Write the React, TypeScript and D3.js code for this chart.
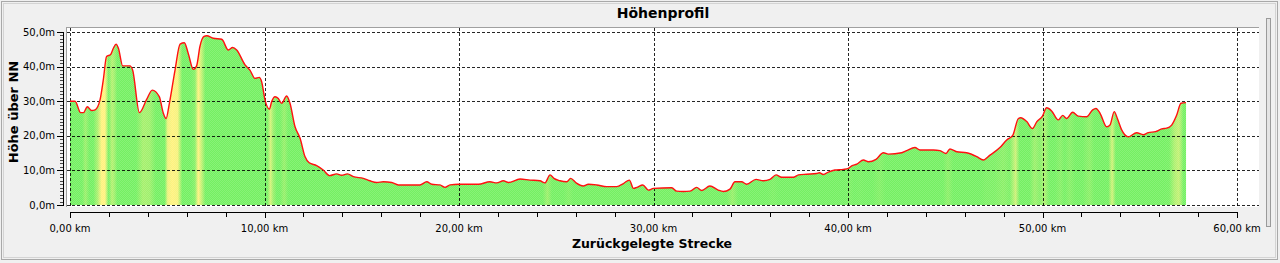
import React from "react";
import * as d3 from "d3";

const km: number[] = [
  0, 0.26, 0.55, 0.69, 0.89, 1.11, 1.29, 1.54, 1.71, 1.88, 2.09, 2.23, 2.37, 2.49, 2.71, 3.08, 3.22, 3.57,
  3.94, 4.23, 4.59, 4.8, 4.94, 5.11, 5.4, 5.66, 5.88, 6.08, 6.34, 6.51, 6.68, 6.89, 7.03, 7.37, 7.8, 8.14,
  8.36, 8.57, 9.0, 9.25, 9.51, 9.73, 9.85, 10.03, 10.25, 10.37, 10.54, 10.71, 10.88, 11.14, 11.31, 11.57,
  11.83, 12.08, 12.3, 12.68, 13.02, 13.35, 13.71, 13.97, 14.26, 14.57, 15.08, 15.42, 15.77, 16.11, 16.54,
  16.88, 17.99, 18.34, 18.6, 19.02, 19.28, 19.54, 19.97, 21.0, 21.59, 21.94, 22.28, 22.54, 23.14, 23.65,
  24.16, 24.42, 24.68, 24.88, 25.19, 25.54, 25.74, 26.02, 26.39, 26.65, 27.08, 27.6, 28.11, 28.45, 28.76,
  28.97, 29.14, 29.45, 29.74, 29.99, 30.94, 31.19, 31.53, 31.88, 32.22, 32.48, 32.9, 33.33, 33.59, 33.93,
  34.19, 34.53, 34.79, 35.27, 35.65, 35.99, 36.3, 36.59, 37.19, 37.45, 37.88, 38.39, 38.53, 38.73, 38.99,
  39.33, 39.76, 40.02, 40.19, 40.45, 40.79, 41.05, 41.44, 41.82, 42.07, 42.76, 43.02, 43.44, 43.7, 44.39,
  44.73, 45.04, 45.24, 45.59, 46.1, 46.62, 46.96, 47.3, 47.81, 48.16, 48.47, 48.76, 48.88, 49.19, 49.48,
  49.71, 50.0, 50.21, 50.47, 50.81, 51.04, 51.24, 51.55, 51.84, 52.27, 52.58, 52.75, 52.96, 53.3, 53.47,
  53.69, 53.85, 54.07, 54.41, 54.84, 55.18, 55.44, 55.81, 56.13, 56.38, 56.64, 56.9, 57.12, 57.38,
];

const elevation: number[] = [
  30.0, 30.0, 26.7, 26.7, 28.4, 27.3, 27.5, 30.3, 36.1, 42.9, 43.5, 45.3, 46.5, 45.3, 40.2, 40.2, 39.0, 26.7,
  30.5, 33.2, 31.3, 26.5, 25.0, 29.4, 39.0, 46.5, 46.9, 43.8, 39.2, 40.2, 45.8, 48.7, 48.9, 48.2, 47.9, 44.8,
  45.5, 44.8, 40.5, 39.0, 36.6, 36.9, 35.7, 30.3, 27.7, 29.9, 31.3, 30.8, 29.4, 31.5, 29.4, 22.6,
  19.3, 14.0, 12.2, 11.4, 10.1, 8.5, 9.0, 8.6, 9.0, 8.2, 7.7, 7.0, 6.5, 6.7, 6.5,
  5.8, 5.8, 6.7, 6.0, 5.8, 5.1, 5.8, 6.0, 6.0, 6.7, 6.4, 7.0, 6.5, 7.5, 7.2,
  7.0, 6.4, 8.7, 7.7, 7.0, 6.7, 7.7, 6.4, 5.5, 6.0, 5.8, 5.3, 5.3, 6.2, 7.2,
  4.8, 5.1, 5.8, 4.3, 4.8, 5.0, 4.0, 3.9, 4.0, 5.1, 4.2, 5.5, 4.3, 3.9, 4.6,
  6.7, 6.7, 6.0, 7.4, 7.0, 7.4, 8.7, 8.0, 8.0, 8.7, 8.9, 9.1, 9.3, 8.8, 9.5,
  10.1, 10.3, 10.6, 11.3, 11.8, 13.0, 12.5, 13.2, 15.1, 14.7, 15.1, 15.7, 16.6, 15.9, 15.9,
  15.7, 14.9, 16.2, 15.4, 15.1, 14.0, 13.0, 14.4, 16.6, 18.8, 20.1, 25.0, 25.2, 24.1, 22.1,
  24.1, 25.7, 28.1, 27.2, 24.6, 25.9, 25.0, 26.8, 25.7, 25.5, 27.5, 27.9, 26.5, 22.6, 23.1,
  27.0, 25.0, 21.7, 19.7, 20.9, 20.3, 20.9, 21.2, 22.0, 22.2, 23.1, 26.0, 29.4, 29.6,
];

const yTicks: number[] = [0, 10, 20, 30, 40, 50];
const xTicks: number[] = [0, 10, 20, 30, 40, 50, 60];
const chartTitle = "Höhenprofil";
const xTitle = "Zurückgelegte Strecke";
const yTitle = "Höhe über NN";

const W = 1280;
const H = 263;
const FONT = "'DejaVu Sans', Verdana, sans-serif";

export default function App() {
  const x = d3.scaleLinear().domain([0, 60]).range([70, 1237]);
  const y = d3.scaleLinear().domain([0, 50]).range([205, 32]);

  const pts = km.map((k, i) => ({ k, e: elevation[i] }));

  const area = d3
    .area<{ k: number; e: number }>()
    .x((d) => x(d.k))
    .y0(y(0))
    .y1((d) => y(d.e))
    .curve(d3.curveMonotoneX);
  const line = d3
    .line<{ k: number; e: number }>()
    .x((d) => x(d.k))
    .y((d) => y(d.e))
    .curve(d3.curveMonotoneX);

  const color = d3
    .scaleLinear<string>()
    .domain([3, 10, 20, 32])
    .range(["#74f062", "#a4f06c", "#def27a", "#fff27e"])
    .clamp(true);

  const stops: { off: number; c: string }[] = [];
  for (let i = 1; i < pts.length; i++) {
    const a = pts[i - 1];
    const b = pts[i];
    const slope = (b.e - a.e) / (b.k - a.k);
    const mid = (a.k + b.k) / 2;
    stops.push({ off: mid / 60, c: color(slope) });
  }

  const fmt = d3.formatLocale({ decimal: ",", thousands: ".", grouping: [3], currency: ["", "€"] });
  const f1 = fmt.format(".1f");
  const f2 = fmt.format(".2f");

  const yMinor = d3.range(0, 51, 1);
  const xMinor = d3.range(0, 61, 2);

  return (
    <svg
      width={W}
      height={H}
      style={{ position: "absolute", left: 0, top: 0, display: "block" }}
      fontFamily={FONT}
    >
      <defs>
        <linearGradient id="slopeGrad" gradientUnits="userSpaceOnUse" x1={x(0)} x2={x(60)} y1={0} y2={0}>
          {stops.map((s, i) => (
            <stop key={i} offset={s.off} stopColor={s.c} />
          ))}
        </linearGradient>
        <pattern id="dither" width={2} height={2} patternUnits="userSpaceOnUse">
          <rect x={0} y={0} width={1} height={1} fill="#ffffff" fillOpacity={0.14} />
          <rect x={1} y={1} width={1} height={1} fill="#ffffff" fillOpacity={0.14} />
        </pattern>
      </defs>

      <rect x={0} y={0} width={W} height={H} fill="#f0f0f0" />
      <rect x={1.5} y={1.5} width={1276} height={258} fill="none" stroke="#a9a9a9" />
      <rect x={3.5} y={3.5} width={1272} height={254} fill="none" stroke="#d4d4d4" />

      {/* splitter on the right */}
      <rect x={1266.5} y={18.5} width={4} height={208} fill="#e4e4e4" stroke="#9a9a9a" />

      <text x={663} y={18} textAnchor="middle" fontWeight="bold" fontSize={14} fill="#000">
        {chartTitle}
      </text>

      {/* plot background */}
      <rect x={66} y={27} width={1193} height={180} fill="#ffffff" />
      <line x1={66} x2={1259} y1={27.5} y2={27.5} stroke="#a0a0a0" />
      <line x1={66.5} x2={66.5} y1={27} y2={207} stroke="#a0a0a0" />

      {/* area */}
      <path d={area(pts) || ""} fill="url(#slopeGrad)" />
      <path d={area(pts) || ""} fill="url(#dither)" />

      {/* grid */}
      {yTicks.map((t) => (
        <line
          key={"gy" + t}
          x1={67}
          x2={1259}
          y1={Math.round(y(t)) + 0.5}
          y2={Math.round(y(t)) + 0.5}
          stroke="#000"
          strokeDasharray="3,2"
          strokeOpacity={0.85}
        />
      ))}
      {xTicks.map((t) => (
        <line
          key={"gx" + t}
          x1={Math.round(x(t)) + 0.5}
          x2={Math.round(x(t)) + 0.5}
          y1={28}
          y2={207}
          stroke="#000"
          strokeDasharray="3,2"
          strokeOpacity={0.85}
        />
      ))}

      {/* profile line */}
      <path d={line(pts) || ""} fill="none" stroke="#ff1010" strokeWidth={1.4} strokeLinejoin="round" />

      {/* y axis */}
      <line x1={63.5} x2={63.5} y1={y(50)} y2={y(0) + 1} stroke="#000" />
      {yMinor.map((t) => (
        <line
          key={"ym" + t}
          x1={t % 10 === 0 ? 57 : 60}
          x2={63}
          y1={Math.round(y(t)) + 0.5}
          y2={Math.round(y(t)) + 0.5}
          stroke="#000"
          strokeOpacity={t % 10 === 0 ? 1 : 0.7}
        />
      ))}
      {yTicks.map((t) => (
        <text
          key={"yl" + t}
          x={55}
          y={y(t)}
          dy="0.35em"
          textAnchor="end"
          fontSize={10}
          fill="#000"
        >
          {f1(t) + "m"}
        </text>
      ))}
      <text
        transform={`translate(18,${112}) rotate(-90)`}
        textAnchor="middle"
        fontWeight="bold"
        fontSize={13}
        fill="#000"
      >
        {yTitle}
      </text>

      {/* x axis */}
      <line x1={x(0)} x2={x(60) + 1} y1={212.5} y2={212.5} stroke="#000" />
      {xMinor.map((t) => (
        <line
          key={"xm" + t}
          x1={Math.round(x(t)) + 0.5}
          x2={Math.round(x(t)) + 0.5}
          y1={212}
          y2={t % 10 === 0 ? 218 : 217}
          stroke="#000"
        />
      ))}
      {xTicks.map((t) => (
        <text key={"xl" + t} x={x(t)} y={232} textAnchor="middle" fontSize={10} fill="#000">
          {f2(t) + " km"}
        </text>
      ))}
      <text x={652} y={248} textAnchor="middle" fontWeight="bold" fontSize={12.5} fill="#000">
        {xTitle}
      </text>
    </svg>
  );
}
